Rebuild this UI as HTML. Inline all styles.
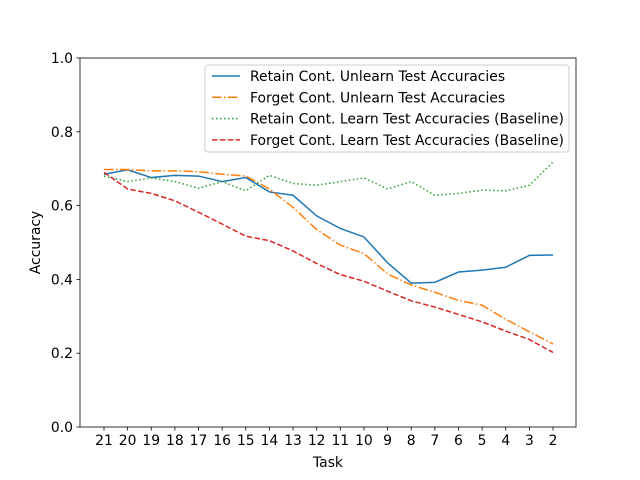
<!DOCTYPE html>
<html><head><meta charset="utf-8"><style>body{margin:0;background:#fff}svg{display:block;font-family:"DejaVu Sans","Liberation Sans",sans-serif}</style></head>
<body>
<svg id="chart" width="640" height="480" viewBox="0 0 640 480" xmlns="http://www.w3.org/2000/svg">
<rect width="640" height="480" fill="#fff"/>
<g id="plot"></g>
</svg>
<script>
const categories = ["21","20","19","18","17","16","15","14","13","12","11","10","9","8","7","6","5","4","3","2"];
const retainUnlearn = [0.685,0.697,0.676,0.682,0.680,0.665,0.676,0.637,0.628,0.572,0.538,0.515,0.445,0.390,0.392,0.420,0.425,0.433,0.465,0.466];
const forgetUnlearn = [0.698,0.698,0.694,0.694,0.692,0.685,0.680,0.645,0.595,0.535,0.493,0.470,0.415,0.385,0.365,0.343,0.330,0.292,0.258,0.225];
const retainLearn = [0.680,0.665,0.675,0.665,0.647,0.665,0.640,0.682,0.660,0.655,0.665,0.675,0.645,0.665,0.628,0.633,0.642,0.640,0.655,0.718];
const forgetLearn = [0.690,0.645,0.633,0.613,0.582,0.550,0.517,0.505,0.477,0.443,0.413,0.395,0.368,0.342,0.325,0.305,0.285,0.260,0.237,0.202];
const yTicks = [0.0,0.2,0.4,0.6,0.8,1.0];
const seriesNames = ["Retain Cont. Unlearn Test Accuracies","Forget Cont. Unlearn Test Accuracies","Retain Cont. Learn Test Accuracies (Baseline)","Forget Cont. Learn Test Accuracies (Baseline)"];

const L=80,R=576,T=58,B=427;
const NS="http://www.w3.org/2000/svg";
const g=document.getElementById('plot');
function x(i){return 104+i*(553-104)/(categories.length-1);}
function y(v){return B-(v-0)/(1-0)*(B-T);}
function el(tag,attrs,parent){const e=document.createElementNS(NS,tag);for(const k in attrs)e.setAttribute(k,attrs[k]);(parent||g).appendChild(e);return e;}

const styles=[
 {c:"#1f77b4",d:""},
 {c:"#ff7f0e",d:"9.6,2.4,1.5,2.4"},
 {c:"#2ca02c",d:"1.5,2.5"},
 {c:"#d62728",d:"5.5,2.4"}
];
const all=[retainUnlearn,forgetUnlearn,retainLearn,forgetLearn];
const keys=["retain-unlearn","forget-unlearn","retain-learn","forget-learn"];
all.forEach((s,k)=>{
 const p=el('polyline',{points:s.map((v,i)=>x(i)+','+y(v)).join(' '),fill:'none',stroke:styles[k].c,'stroke-width':1.5,'stroke-dasharray':styles[k].d});
 
 
});

const frame=el('rect',{x:L,y:T,width:R-L,height:B-T,fill:'none',stroke:'#000','stroke-width':0.8});



categories.forEach((c,i)=>{
 el('line',{x1:x(i),x2:x(i),y1:B,y2:B+3.5,stroke:'#000','stroke-width':0.8});
 const t=el('text',{x:x(i),y:B+18,'text-anchor':'middle','font-size':13.9,fill:'#000'});
 t.textContent=c;
 
 
});
yTicks.forEach(v=>{
 el('line',{x1:L,x2:L-3.5,y1:y(v),y2:y(v),stroke:'#000','stroke-width':0.8});
 const t=el('text',{x:L-7,y:y(v)+5,'text-anchor':'end','font-size':13.9,fill:'#000'});
 t.textContent=v.toFixed(1);
 
 
});
const xt=el('text',{x:(L+R)/2,y:467,'text-anchor':'middle','font-size':13.9});
xt.textContent='Task';


const yt=el('text',{x:0,y:0,'text-anchor':'middle','font-size':13.9,transform:'translate(40,'+((T+B)/2)+') rotate(-90)'});
yt.textContent='Accuracy';



const lg=el('g',{});


el('rect',{x:205,y:65,width:364,height:87,rx:3,fill:'#fff','fill-opacity':0.8,stroke:'#ccc','stroke-width':1},lg);
seriesNames.forEach((n,k)=>{
 const yy=76+k*21.3;
 el('line',{x1:212,x2:240,y1:yy,y2:yy,stroke:styles[k].c,'stroke-width':1.5,'stroke-dasharray':styles[k].d},lg);
 const t=el('text',{x:250,y:yy+5,'font-size':13.9},lg);
 t.textContent=n;
 
 
});
</script>
</body></html>
